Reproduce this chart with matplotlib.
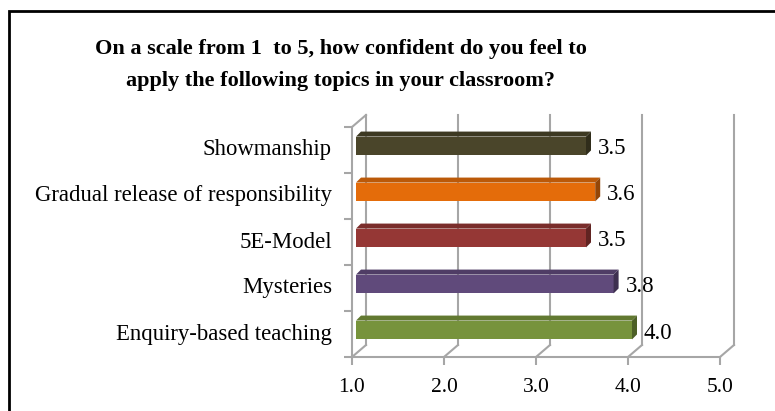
import numpy as np
from matplotlib import pyplot as plt
from matplotlib.patches import Polygon, Rectangle
from matplotlib.colors import to_rgb

# data, bottom to top as drawn
topics = [
    "Enquiry-based teaching",
    "Mysteries",
    "5E-Model",
    "Gradual release of responsibility",
    "Showmanship",
]
scores = [4.0, 3.8, 3.5, 3.6, 3.5]
labels = ["4.0", "3.8", "3.5", "3.6", "3.5"]
colors = ["#77933C", "#604A7B", "#953735", "#E46C0A", "#4A452A"]
xticks = [1.0, 2.0, 3.0, 4.0, 5.0]

W, H = 775, 411
SERIF = ["Liberation Serif", "DejaVu Serif"]
GRID = "#a6a6a6"


def shade(c, f):
    r, g, b = to_rgb(c)
    return (r * f, g * f, b * f)


fig = plt.figure(figsize=(W / 100, H / 100), dpi=100)
ax = fig.add_axes([352 / W, (H - 357) / H, 368 / W, 230 / H])
ax.set_xlim(1, 5)
ax.set_ylim(0, 5)
ax.patch.set_alpha(0)

# pixel -> data unit factors
px_x = 4 / ax.bbox.width
px_y = 5 / ax.bbox.height

# wall depth
dx, dy = 14 * px_x, 12 * px_y

# back wall gridlines and floor diagonals
for x in xticks:
    ax.plot([x + dx, x + dx], [dy, 5 + dy], color=GRID, lw=1.5, clip_on=False)
    ax.plot([x, x + dx], [0, dy], color=GRID, lw=1.5, clip_on=False)
# left wall top edge
ax.plot([1, 1 + dx], [5, 5 + dy], color=GRID, lw=1.5, clip_on=False)

for s in ["top", "right"]:
    ax.spines[s].set_visible(False)
for s in ["left", "bottom"]:
    ax.spines[s].set_color(GRID)
    ax.spines[s].set_linewidth(1.5)

ax.set_xticks(xticks)
ax.set_xticklabels([f"{x:.1f}" for x in xticks], fontsize=15.5, family=SERIF)
ax.set_yticks(range(6))
ax.set_yticklabels([])
ax.tick_params(axis="both", color=GRID, width=1.5, length=6)
ax.tick_params(axis="x", pad=9)

# bars with 3D faces
bh = 0.41
ox, oy = 4 * px_x, 4 * px_y
bx, by = 5 * px_x, 5 * px_y
for i, (v, c) in enumerate(zip(scores, colors)):
    yc = i + 0.5 + oy
    x0, x1 = 1 + ox, v + ox
    y0, y1 = yc - bh / 2, yc + bh / 2
    ax.add_patch(Rectangle((x0, y0), x1 - x0, y1 - y0, facecolor=c,
                           edgecolor="none", clip_on=False, zorder=3))
    ax.add_patch(Polygon([(x0, y1), (x1, y1), (x1 + bx, y1 + by), (x0 + bx, y1 + by)],
                         facecolor=shade(c, 0.82), edgecolor="none", clip_on=False, zorder=3))
    ax.add_patch(Polygon([(x1, y0), (x1 + bx, y0 + by), (x1 + bx, y1 + by), (x1, y1)],
                         facecolor=shade(c, 0.65), edgecolor="none", clip_on=False, zorder=3))
    ax.text(v + 16 * px_x, yc - 3 * px_y, labels[i], fontsize=16.5, family=SERIF,
            va="center", ha="left", zorder=4)
    ax.text(1 - 20 * px_x, i + 0.5, topics[i], fontsize=16.4, family=SERIF,
            va="center", ha="right")

fig.text(341 / W, 1 - 65 / H,
         "On a scale from 1  to 5, how confident do you feel to\n"
         "apply the following topics in your classroom?",
         ha="center", va="center", fontsize=16, fontweight="bold",
         family=SERIF, linespacing=1.8)

# outer frame
fig.patches.append(Rectangle((9 / W, -0.1), 1.2, 1.1 - 11 / H, transform=fig.transFigure,
                             fill=False, edgecolor="black", lw=2))

fig.savefig("out.png", dpi=100)
